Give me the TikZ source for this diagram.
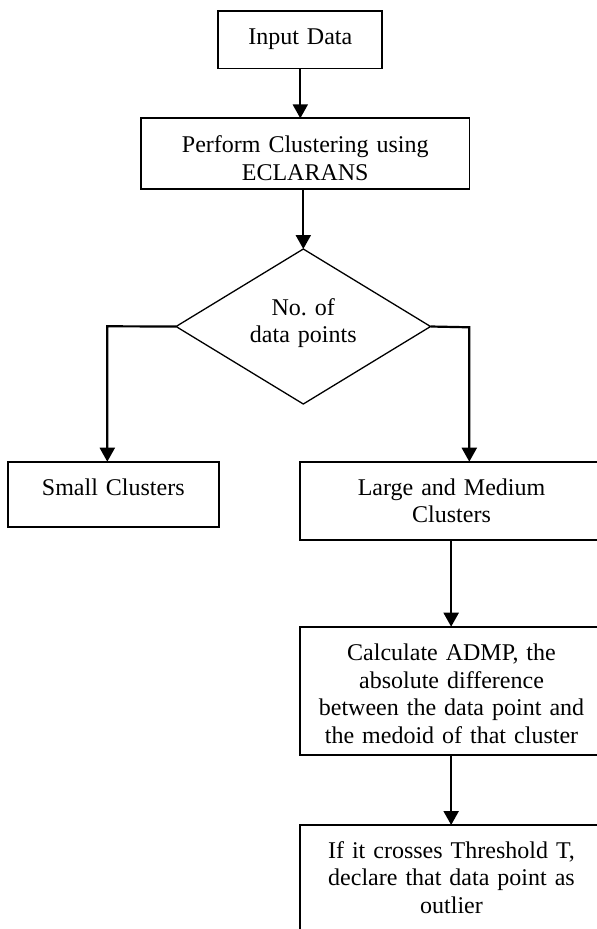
\documentclass[tikz,border=0pt]{standalone}
\usepackage{fontspec}
\setmainfont{Liberation Serif}
\usetikzlibrary{arrows.meta,shapes.geometric}
\begin{document}
\frenchspacing
\begin{tikzpicture}[x=1pt,y=-1pt,
  boxnode/.style={draw=black,line width=1.7pt,rectangle,inner sep=0pt,outer sep=0pt},
  txt/.style={inner sep=0pt,outer sep=0pt,anchor=base,align=center,text width=290pt,
    font=\fontsize{24}{27.5}\selectfont\frenchspacing},
  conn/.style={line width=2.2pt,line join=miter,-{Triangle[length=14pt,width=15pt]}}]
\useasboundingbox (0,0) rectangle (597,929);
\fill[white] (0,0) rectangle (597,929);
\clip (0,0) rectangle (597,929);

% boxes
\node[boxnode,minimum width=164pt,minimum height=57.3pt] (input) at (300.3,39.7) {};
\node[boxnode,minimum width=328.5pt,minimum height=71pt] (perform) at (305.25,153.8) {};
\node[draw=black,line width=1.3pt,diamond,inner sep=0pt,outer sep=0pt,
      minimum width=254.5pt,minimum height=155pt] (dec) at (303.3,326.5) {};
\node[boxnode,minimum width=210.7pt,minimum height=65pt] (small) at (113.65,494.2) {};
\node[boxnode,minimum width=301.7pt,minimum height=78.3pt] (large) at (451.15,500.85) {};
\node[boxnode,minimum width=301.7pt,minimum height=128.3pt] (calc) at (451.15,690.85) {};
\node[boxnode,minimum width=301.7pt,minimum height=120pt] (last) at (451.15,885) {};

% texts
\node[txt] (tinput) at (300.3,44) {Input Data};
\node[txt] (tperform) at (305.25,152.7) {Perform Clustering using\\ECLARANS};
\node[txt] (tdec) at (303.3,315) {No. of\\data points};
\node[txt] (tsmall) at (113.3,495) {Small Clusters};
\node[txt] (tlarge) at (451.5,495) {Large and Medium\\Clusters};
\node[txt] (tcalc) at (451.5,660.5) {Calculate ADMP, the\\absolute difference\\between the data point and\\the medoid of that cluster};
\node[txt] (tlast) at (451.5,858.3) {If it crosses Threshold T,\\declare that data point as\\outlier};

% corner coordinates
\coordinate (lc) at (107.3,326.3);
\coordinate (rc) at (469.3,327.3);

% connectors
\draw[conn] (input.south) -- (input.south |- perform.north);
\draw[conn] (perform.south -| dec.north) -- (dec.north);
\draw[conn] (dec.west) -- (lc) -- (lc |- small.north);
\draw[conn] (dec.east) -- (rc) -- (rc |- large.north);
\draw[conn] (large.south) -- (calc.north);
\draw[conn] (calc.south) -- (last.north);
\end{tikzpicture}
\end{document}
